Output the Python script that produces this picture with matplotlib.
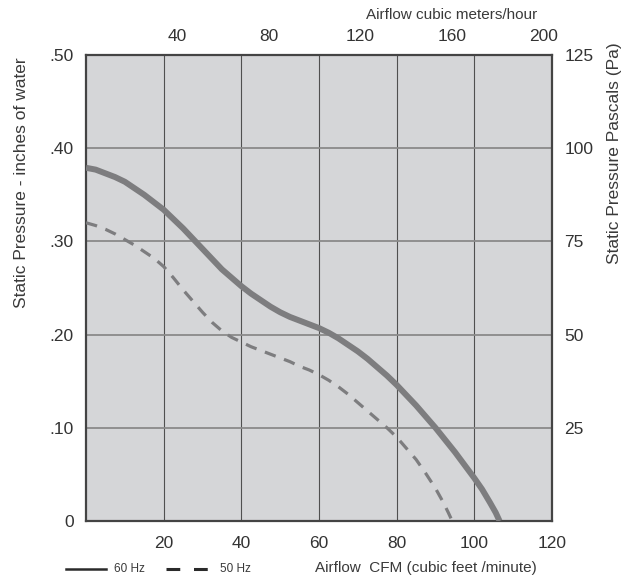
import matplotlib
matplotlib.use("Agg")
import matplotlib.pyplot as plt
from matplotlib.lines import Line2D

plt.rcParams['font.family'] = ['Liberation Sans', 'DejaVu Sans']

# ---- data ----
cfm_60hz = [0, 2.5, 5, 7.5, 10, 12.5, 15, 17.5, 20, 22.5, 25, 27.5, 30, 32.5, 35, 37.5, 40, 42.5, 45, 47.5,
            50, 52.5, 55, 57.5, 60, 62.5, 65, 67.5, 70, 72.5, 75, 77.5, 80, 82.5, 85, 87.5, 90, 92.5, 95,
            97.5, 100, 102, 104, 105.5, 106.5]
p_60hz = [0.379, 0.377, 0.373, 0.369, 0.364, 0.357, 0.350, 0.342, 0.334, 0.324, 0.314, 0.303, 0.292,
          0.281, 0.270, 0.261, 0.252, 0.244, 0.237, 0.230, 0.224, 0.219, 0.215, 0.211, 0.207, 0.202,
          0.196, 0.189, 0.182, 0.174, 0.165, 0.156, 0.146, 0.135, 0.124, 0.112, 0.100, 0.087, 0.074,
          0.060, 0.046, 0.034, 0.020, 0.009, 0.0]

cfm_50hz = [0, 2.5, 5, 7.5, 10, 12.5, 15, 17.5, 20, 22.5, 25, 27.5, 30, 32.5, 35, 37.5, 40, 42.5, 45, 47.5,
            50, 52.5, 55, 57.5, 60, 62.5, 65, 67.5, 70, 72.5, 75, 77.5, 80, 82.5, 85, 87.5, 90, 92,
            93.3, 94.3]
p_50hz = [0.320, 0.317, 0.313, 0.308, 0.302, 0.296, 0.289, 0.282, 0.273, 0.261, 0.248, 0.236, 0.224,
          0.213, 0.204, 0.197, 0.192, 0.187, 0.183, 0.179, 0.175, 0.171, 0.166, 0.162, 0.157, 0.151,
          0.144, 0.136, 0.127, 0.118, 0.109, 0.100, 0.090, 0.078, 0.066, 0.051, 0.035, 0.020, 0.009, 0.0]

cfm_ticks = [20, 40, 60, 80, 100, 120]
inwater_ticks = [0, 0.1, 0.2, 0.3, 0.4, 0.5]
inwater_labels = ['0', '.10', '.20', '.30', '.40', '.50']
m3h_ticks = [40, 80, 120, 160, 200]
pa_ticks = [25, 50, 75, 100, 125]

CFM_TO_M3H = 1.699
IN_TO_PA = 250.0

W, H = 627, 580
fig = plt.figure(figsize=(W / 100, H / 100), dpi=100)
ax = fig.add_axes([86 / W, (H - 521) / H, 466 / W, 466 / H])
ax.set_facecolor('#d5d6d8')

ax.set_xlim(0, 120)
ax.set_ylim(0, 0.5)

ax.grid(axis='x', color='#505050', lw=0.8, zorder=1)
ax.grid(axis='y', color='#8a8a8a', lw=1.3, zorder=1)
ax.set_axisbelow(True)

line_col = '#7d7d7f'
ax.plot(cfm_60hz, p_60hz, color=line_col, lw=4.3, solid_capstyle='butt', solid_joinstyle='round', zorder=3)
ax.plot(cfm_50hz, p_50hz, color=line_col, lw=2.3, dashes=(3.6, 2.8), zorder=3)

for s in ax.spines.values():
    s.set_color('#444444')
    s.set_linewidth(1.6)

tick_col = '#333333'
ax.set_xticks(cfm_ticks)
ax.set_xticklabels([str(v) for v in cfm_ticks])
ax.set_yticks(inwater_ticks)
ax.set_yticklabels(inwater_labels)
ax.tick_params(axis='x', length=0, pad=11, labelsize=12.5, labelcolor=tick_col)
ax.tick_params(axis='y', length=0, pad=9, labelsize=12.5, labelcolor=tick_col)

top = ax.secondary_xaxis('top', functions=(lambda x: x * CFM_TO_M3H, lambda m: m / CFM_TO_M3H))
top.set_xticks(m3h_ticks)
top.set_xticklabels([str(v) for v in m3h_ticks])
top.tick_params(length=0, pad=8, labelsize=12.5, labelcolor=tick_col)
top.spines['top'].set_visible(False)

right = ax.secondary_yaxis('right', functions=(lambda p: p * IN_TO_PA, lambda pa: pa / IN_TO_PA))
right.set_yticks(pa_ticks)
right.set_yticklabels([str(v) for v in pa_ticks])
right.tick_params(length=0, pad=9, labelsize=12.5, labelcolor=tick_col)
right.spines['right'].set_visible(False)

lab_col = '#3a3a3a'
fig.text(537 / W, 1 - 15 / H, 'Airflow cubic meters/hour', ha='right', va='center', fontsize=11, color=lab_col)
fig.text(315 / W, 1 - 568 / H, 'Airflow  CFM (cubic feet /minute)', ha='left', va='center', fontsize=11, color=lab_col)
fig.text(22 / W, 1 - 57 / H, 'Static Pressure - inches of water', rotation=90, ha='center', va='top',
         fontsize=12.5, color=lab_col)
fig.text(615 / W, 1 - 42 / H, 'Static Pressure Pascals (Pa)', rotation=90, ha='center', va='top',
         fontsize=12.5, color=lab_col)

# legend
ly = 1 - 569 / H
fig.add_artist(Line2D([66 / W, 106 / W], [ly, ly], color='#2a2a2a', lw=1.8, transform=fig.transFigure))
fig.text(114 / W, ly, '60 Hz', ha='left', va='center', fontsize=8.5, color=lab_col)
fig.add_artist(Line2D([166 / W, 210 / W], [ly, ly], color='#2a2a2a', lw=2.2, dashes=(4.5, 4.5),
                      transform=fig.transFigure))
fig.text(220 / W, ly, '50 Hz', ha='left', va='center', fontsize=8.5, color=lab_col)

fig.savefig('out.png', dpi=100, facecolor='white')
